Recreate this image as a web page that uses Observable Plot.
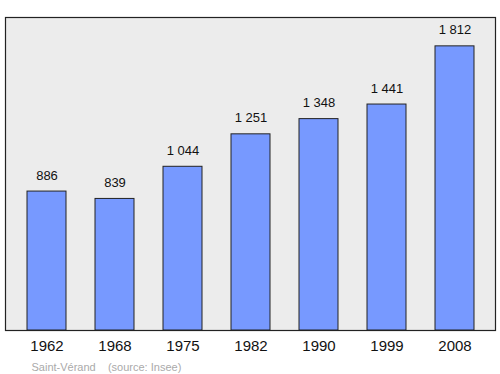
<!DOCTYPE html>
<html>
<head>
<meta charset="utf-8">
<script src="https://cdn.jsdelivr.net/npm/d3@7"></script>
<script src="https://cdn.jsdelivr.net/npm/@observablehq/plot@0.6"></script>
<style>
  html, body { margin: 0; padding: 0; background: #fff; }
  svg { display: block; }
</style>
</head>
<body>
<div id="chart"></div>
<script>
const years = ["1962", "1968", "1975", "1982", "1990", "1999", "2008"];
const population = [886, 839, 1044, 1251, 1348, 1441, 1812];
const captionText = "Saint-Vérand\u00a0\u00a0\u00a0\u00a0(source: Insee)";

const data = years.map((y, i) => ({year: y, pop: population[i]}));
const fmt = v => d3.format(",")(v).replace(/,/g, "\u00a0");

const chart = Plot.plot({
  width: 500,
  height: 374,
  marginLeft: 5,
  marginRight: 5,
  marginTop: 17,
  marginBottom: 44,
  style: {fontFamily: "'Liberation Sans', Arial, sans-serif", background: "#fff"},
  x: {domain: years, range: [26, 474.5], paddingInner: 0.43, paddingOuter: 0, label: null},
  y: {domain: [0, 1996], axis: null},
  marks: [
    Plot.frame({fill: "#ececec", stroke: "#222", strokeWidth: 1.2}),
    Plot.barY(data, {x: "year", y: "pop", fill: "#7799ff", stroke: "#222", strokeWidth: 1}),
    Plot.text(data, {x: "year", y: "pop", text: d => fmt(d.pop), lineAnchor: "bottom", dy: -12, fontSize: 13, fill: "#111"}),
    Plot.axisX({tickSize: 0, tickPadding: 10, fontSize: 15, fill: "#111", label: null}),
    Plot.text([captionText], {frameAnchor: "bottom-left", dx: 26, dy: 40, fontSize: 11, fill: "#aaa", textAnchor: "start"})
  ]
});
document.getElementById("chart").appendChild(chart);
</script>
</body>
</html>
